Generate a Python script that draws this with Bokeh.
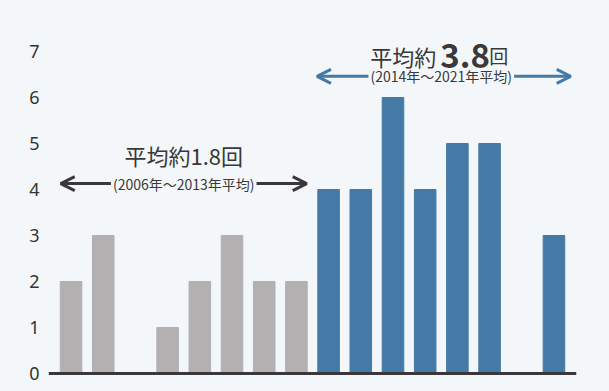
from bokeh.plotting import figure
from bokeh.models import Range1d, FixedTicker, Span, Arrow, OpenHead, Label, ColumnDataSource
from bokeh.embed import file_html
from bokeh.resources import INLINE

# ---- data ----
years = [2006, 2007, 2008, 2009, 2010, 2011, 2012, 2013,
         2014, 2015, 2016, 2017, 2018, 2019, 2020, 2021]
counts = [2, 3, 0, 1, 2, 3, 2, 2, 4, 4, 6, 4, 5, 5, 0, 3]
split_year = 2014
y_ticks = [0, 1, 2, 3, 4, 5, 6, 7]
avg_before = "1.8"
avg_after = "3.8"
sub_before = "(2006年～2013年平均)"
sub_after = "(2014年～2021年平均)"

BG = "#f3f7f9"
GRAY = "#b2b0b0"
BLUE = "#467aa6"
DARK = "#3a3838"
JP = "Noto Sans CJK JP"

idx = list(range(len(years)))
colors = [GRAY if y < split_year else BLUE for y in years]
src = ColumnDataSource(dict(x=idx, top=counts, color=colors))

p = figure(width=609, height=391, output_backend="svg", toolbar_location=None,
           x_range=Range1d(-0.7, len(years) - 0.3), y_range=Range1d(-0.391, 8.109),
           min_border_left=48, min_border_right=33, min_border_top=0, min_border_bottom=0,
           background_fill_color=BG, border_fill_color=BG)
p.outline_line_color = None
p.grid.visible = False
p.xaxis.visible = False
ya = p.yaxis[0]
ya.ticker = FixedTicker(ticks=y_ticks)
ya.axis_line_color = None
ya.major_tick_line_color = None
ya.minor_tick_line_color = None
ya.major_tick_out = 0
ya.major_tick_in = 0
ya.major_label_standoff = 9
ya.major_label_text_font = "Noto Sans"
ya.major_label_text_font_size = "18px"
ya.major_label_text_color = "#333333"

p.vbar(x="x", top="top", width=0.67, color="color", source=src)
p.add_layout(Span(location=0, dimension="width", line_color=DARK, line_width=3))

n1 = sum(1 for y in years if y < split_year)
n = len(years)

def add_arrow(x0, x1, y, col):
    p.add_layout(Arrow(x_start=x0, y_start=y, x_end=x1, y_end=y, line_color=col, line_width=3,
                       start=OpenHead(size=14, line_width=3, line_color=col),
                       end=OpenHead(size=14, line_width=3, line_color=col)))

add_arrow(-0.32, n1 - 1 + 0.32, 4.13, DARK)
add_arrow(n1 - 0.36, n - 1 + 0.52, 6.46, BLUE)

c1 = (n1 - 1) / 2
c2 = (n1 + n - 1) / 2

p.add_layout(Label(x=c1, y=4.13, text=sub_before, text_align="center", text_baseline="middle",
                   text_font=JP, text_font_size="14px", text_color=DARK,
                   background_fill_color=BG, padding=2))
p.add_layout(Label(x=c2, y=6.46, text=sub_after, text_align="center", text_baseline="middle",
                   text_font=JP, text_font_size="14px", text_color=DARK,
                   background_fill_color=BG, padding=2))

p.add_layout(Label(x=c1, y=4.76, text="平均約" + avg_before + "回", text_align="center",
                   text_baseline="middle", text_font=JP, text_font_size="22px", text_color=DARK))

p.add_layout(Label(x=c2, y=6.91, x_offset=-5, text="平均約", text_align="right",
                   text_baseline="alphabetic", text_font=JP, text_font_size="22px", text_color=DARK))
p.add_layout(Label(x=c2, y=6.91, x_offset=-1, text=avg_after, text_align="left",
                   text_baseline="alphabetic", text_font=JP, text_font_size="33px",
                   text_font_style="bold", text_color=DARK))
p.add_layout(Label(x=c2, y=6.91, x_offset=48, text="回", text_align="left",
                   text_baseline="alphabetic", text_font=JP, text_font_size="19px", text_color=DARK))

html = file_html(p, INLINE)
html = html.replace("<head>", "<head><style>html,body{background:%s;margin:0;}</style>" % BG, 1)
open("out.html", "w").write(html)
